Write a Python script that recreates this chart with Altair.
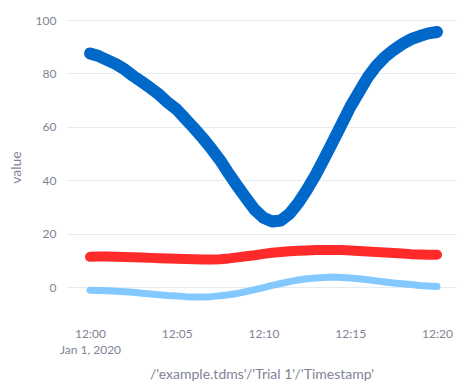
import altair as alt
import pandas as pd

minutes = [i * 0.5 for i in range(41)]

blue = [87.5, 86.5, 85.0, 83.5, 81.5, 79.0, 76.8, 74.5, 72.0, 69.0, 66.5,
        63.0, 59.5, 55.8, 51.8, 47.5, 42.5, 37.8, 33.3, 29.0, 26.0,
        24.6, 25.0, 27.5, 31.5, 36.5, 42.0, 48.2, 54.5, 61.0, 67.5,
        73.0, 78.5, 82.8, 86.2, 88.8, 91.0, 92.8, 94.0, 95.0, 95.5]
red = [11.4, 11.5, 11.5, 11.4, 11.3, 11.2, 11.1, 11.0, 10.9, 10.8, 10.7,
       10.6, 10.5, 10.4, 10.4, 10.5, 10.8, 11.2, 11.6, 12.0, 12.5,
       12.9, 13.2, 13.5, 13.7, 13.8, 13.9, 13.9, 13.9, 13.9, 13.8,
       13.6, 13.4, 13.2, 13.0, 12.8, 12.6, 12.4, 12.3, 12.2, 12.2]
light = [-1.1, -1.2, -1.3, -1.5, -1.7, -1.9, -2.2, -2.5, -2.8, -3.1, -3.3,
         -3.5, -3.6, -3.6, -3.5, -3.2, -2.8, -2.3, -1.6, -0.9, -0.1,
         0.7, 1.4, 2.1, 2.7, 3.2, 3.5, 3.7, 3.8, 3.7, 3.5,
         3.2, 2.8, 2.4, 2.0, 1.6, 1.3, 1.0, 0.7, 0.5, 0.3]

series_names = ["Channel A", "Channel B", "Channel C"]
series_values = [blue, light, red]
series_colors = ["#0068c9", "#83c9ff", "#ff2b2b"]
series_widths = [12, 7, 10]

base_time = pd.Timestamp("2020-01-01 12:00:00")
rows = []
for name, vals in zip(series_names, series_values):
    for m, v in zip(minutes, vals):
        t = base_time + pd.Timedelta(minutes=m)
        rows.append({"ts": t.strftime("%Y-%m-%dT%H:%M:%S"), "value": v, "series": name})
df = pd.DataFrame(rows)

tick_values = [alt.DateTime(year=2020, month=1, date=1, hours=12, minutes=mm) for mm in [0, 5, 10, 15, 20]]
x_domain = [alt.DateTime(year=2020, month=1, date=1, hours=11, minutes=58, seconds=37),
            alt.DateTime(year=2020, month=1, date=1, hours=12, minutes=21, seconds=9)]

label_expr = ("datum.index == 0 ? [timeFormat(datum.value, '%H:%M'), timeFormat(datum.value, '%b %-d, %Y')]"
              " : timeFormat(datum.value, '%H:%M')")

layers = []
for name, col, w in zip(series_names, series_colors, series_widths):
    layers.append(
        alt.Chart(df[df.series == name]).mark_line(
            color=col, strokeWidth=w, strokeCap="round", strokeJoin="round"
        ).encode(
            x=alt.X("ts:T", title="/'example.tdms'/'Trial 1'/'Timestamp'",
                    scale=alt.Scale(domain=x_domain, nice=False),
                    axis=alt.Axis(values=tick_values, labelExpr=label_expr, grid=False,
                                  ticks=False, domain=False, labelPadding=14,
                                  labelLineHeight=16, titlePadding=12)),
            y=alt.Y("value:Q", title="value",
                    scale=alt.Scale(domain=[-10, 100], nice=False),
                    axis=alt.Axis(values=[0, 20, 40, 60, 80, 100], ticks=False, domain=False,
                                  labelPadding=10, titlePadding=12, gridColor="#e6eaf1")),
        )
    )

chart = alt.layer(*layers).properties(
    width=449, height=376,
    autosize=alt.AutoSizeParams(type="fit", contains="padding"),
    padding={"left": 1, "top": 6, "right": 0, "bottom": 3}
).configure_view(
    stroke=None
).configure_axis(
    labelFont="Lato", titleFont="Lato", labelColor="#808495", titleColor="#808495",
    labelFontSize=12, titleFontSize=14, titleFontWeight="normal"
)

chart.save("out.html", embed_options={"renderer": "svg", "actions": False})
